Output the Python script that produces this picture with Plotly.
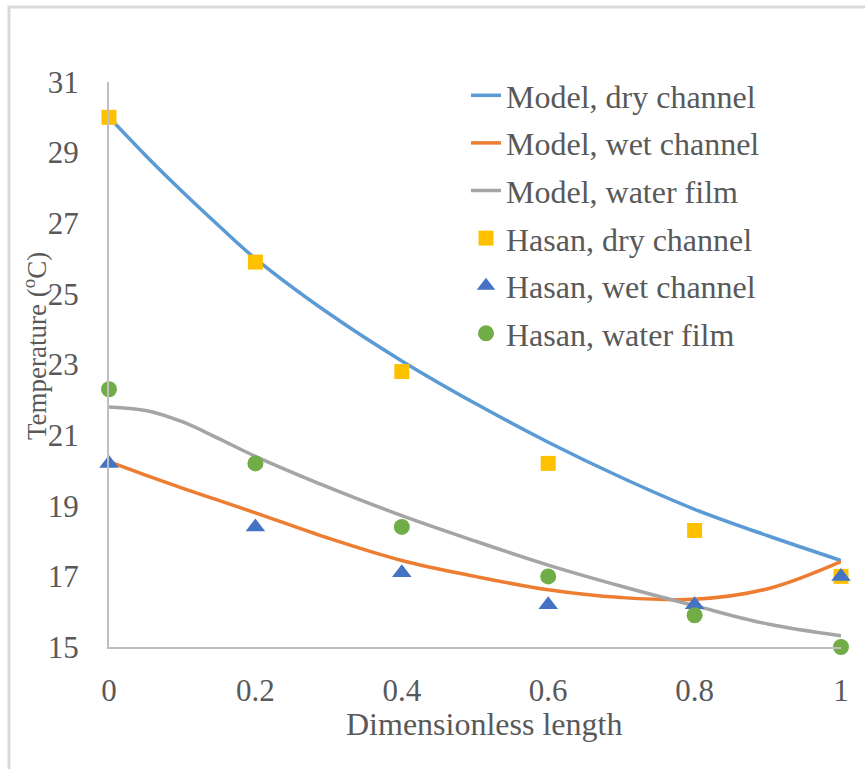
import plotly.graph_objects as go

# Dimensionless position along the channel
x_model = [0.0, 0.05, 0.1, 0.15, 0.2, 0.3, 0.4, 0.5, 0.6, 0.7, 0.8, 0.9, 1.0]
model_dry = [30.0, 28.92, 27.9, 26.93, 26.0, 24.45, 23.1, 21.9, 20.8, 19.8, 18.9, 18.15, 17.45]
model_wet = [20.25, 19.87, 19.5, 19.15, 18.8, 18.08, 17.45, 17.0, 16.62, 16.4, 16.35, 16.65, 17.42]
model_film = [21.8, 21.7, 21.38, 20.9, 20.4, 19.52, 18.72, 18.0, 17.32, 16.72, 16.17, 15.65, 15.32]

x_exp = [0.0, 0.2, 0.4, 0.6, 0.8, 1.0]
hasan_dry = [30.0, 25.9, 22.8, 20.2, 18.3, 17.0]
hasan_wet = [20.2, 18.4, 17.1, 16.2, 16.2, 17.0]
hasan_film = [22.3, 20.2, 18.4, 17.0, 15.9, 15.0]

y_ticks = [15, 17, 19, 21, 23, 25, 27, 29, 31]
x_ticks = [0, 0.2, 0.4, 0.6, 0.8, 1]
x_tick_text = ["0", "0.2", "0.4", "0.6", "0.8", "1"]

x_title = "Dimensionless length"
y_title = "Temperature (<sup>o</sup>C)"

FONT = "Liberation Serif, Times New Roman, serif"
TEXT = "#595959"
AXIS = "#bfbfbf"

fig = go.Figure()

for name, ys, color in [
    ("Model, dry channel", model_dry, "#5B9BD5"),
    ("Model, wet channel", model_wet, "#ED7D31"),
    ("Model, water film", model_film, "#A5A5A5"),
]:
    fig.add_trace(go.Scatter(
        x=x_model, y=ys, name=name, mode="lines", legendgroup=name,
        line=dict(color=color, width=3.5, shape="spline", smoothing=1.0),
        cliponaxis=False,
    ))

for name, ys, color, symbol, size in [
    ("Hasan, dry channel", hasan_dry, "#FFC000", "square", 15),
    ("Hasan, wet channel", hasan_wet, "#4472C4", "triangle-up", 17),
    ("Hasan, water film", hasan_film, "#70AD47", "circle", 16),
]:
    fig.add_trace(go.Scatter(
        x=x_exp, y=ys, name=name, mode="markers", legendgroup=name,
        marker=dict(color=color, symbol=symbol, size=size, line=dict(width=0)),
        cliponaxis=False,
    ))

L, R, T, B = 109, 24, 82, 122
W, H = 865, 769
pw, ph = W - L - R, H - T - B

def px_x(p):
    return (p - L) / pw

def px_y(p):
    return (H - B - p) / ph

# Outer chart frame
fig.add_shape(
    type="rect", xref="paper", yref="paper",
    x0=px_x(9), x1=px_x(875), y0=px_y(7), y1=px_y(780),
    line=dict(color="#d9d9d9", width=3), layer="below",
)

# Axis titles
fig.add_annotation(
    text=x_title, xref="paper", yref="paper",
    x=px_x(484), y=px_y(724), xanchor="center", yanchor="middle",
    showarrow=False, font=dict(family=FONT, size=32, color=TEXT),
)
fig.add_annotation(
    text=y_title, xref="paper", yref="paper", textangle=-90,
    x=px_x(35), y=px_y(346), xanchor="center", yanchor="middle",
    showarrow=False, font=dict(family=FONT, size=27, color=TEXT),
)

fig.update_layout(
    width=W, height=H,
    margin=dict(l=L, r=R, t=T, b=B),
    paper_bgcolor="white", plot_bgcolor="white",
    font=dict(family=FONT, color=TEXT, size=31),
    showlegend=True,
    legend=dict(
        x=px_x(466), y=px_y(68), xanchor="left", yanchor="top",
        bgcolor="rgba(0,0,0,0)", font=dict(size=32, family=FONT, color=TEXT),
        tracegroupgap=3,
    ),
    xaxis=dict(
        range=[0, 1], tickvals=x_ticks, ticktext=x_tick_text,
        showgrid=False, zeroline=False, showline=True,
        linecolor=AXIS, linewidth=2, ticks="", ticklabelstandoff=15,
        tickfont=dict(family=FONT, size=31, color=TEXT),
    ),
    yaxis=dict(
        range=[15, 31], tickvals=y_ticks,
        showgrid=False, zeroline=False, showline=True,
        linecolor=AXIS, linewidth=2, ticks="", ticklabelstandoff=22,
        tickfont=dict(family=FONT, size=31, color=TEXT),
    ),
)

fig.write_html("out.html")
